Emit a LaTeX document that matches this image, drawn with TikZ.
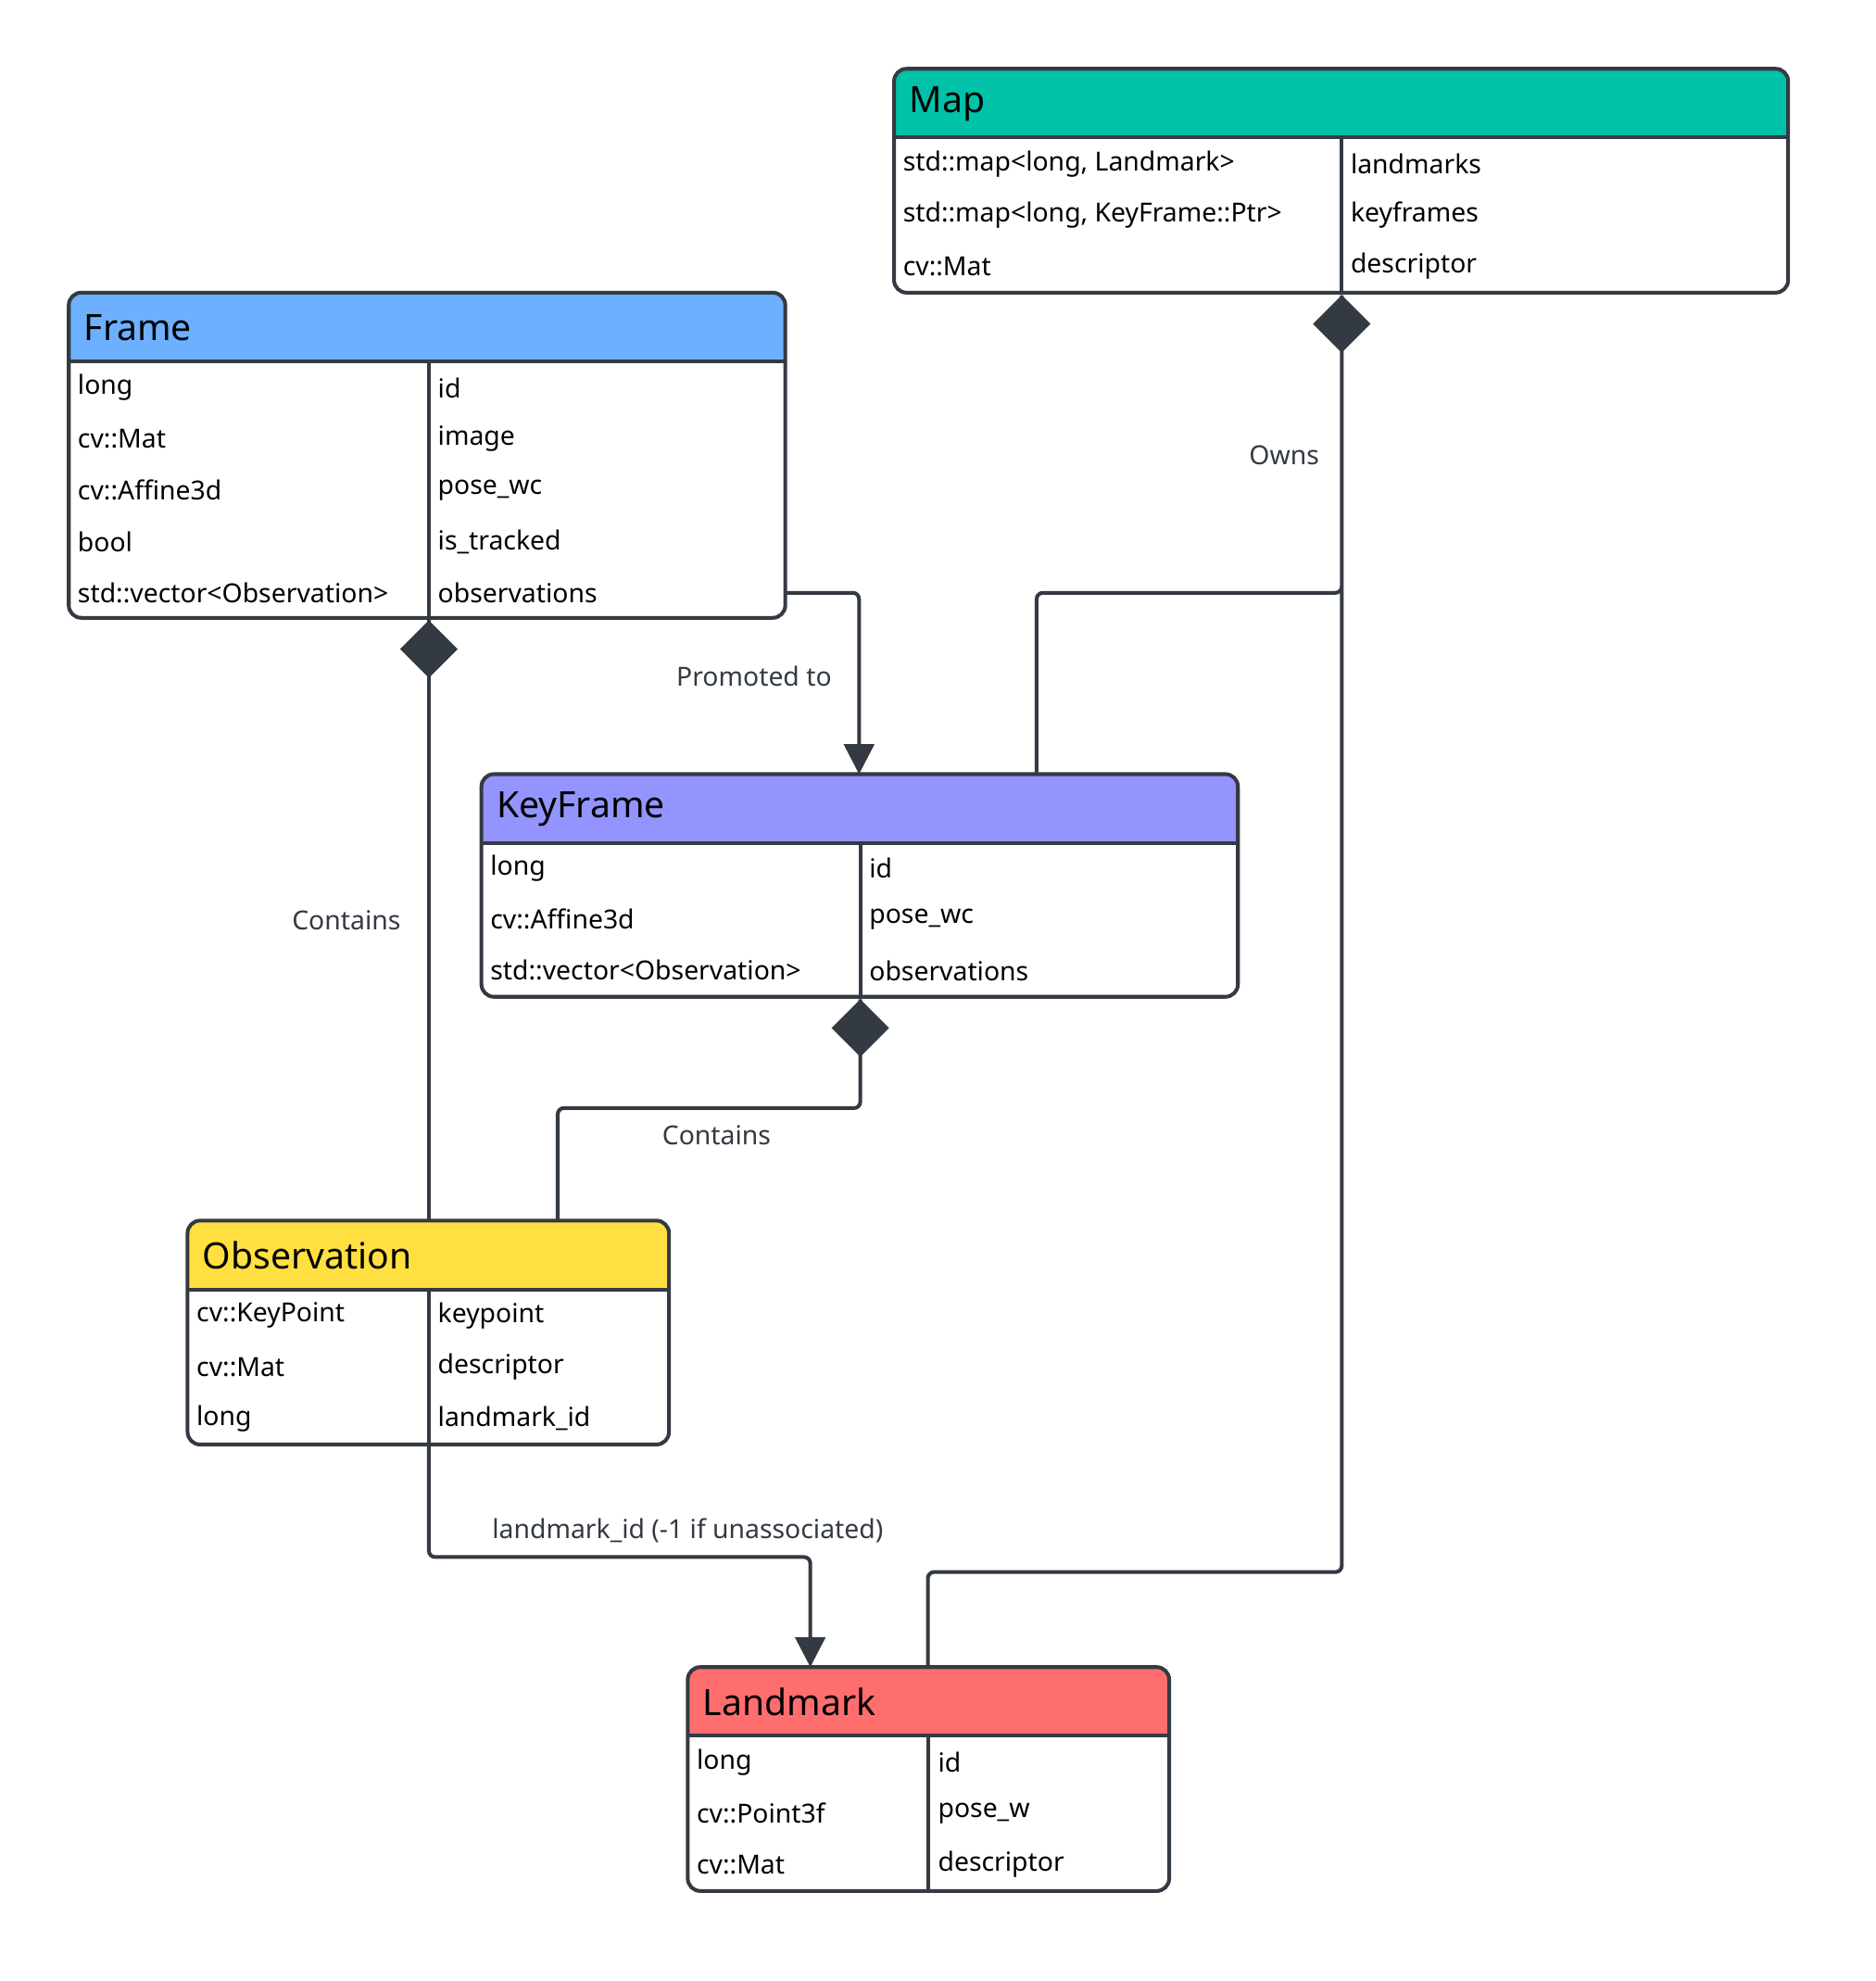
\documentclass[tikz,border=0pt]{standalone}
\usepackage{fontspec}
\setmainfont{Noto Sans}
\usetikzlibrary{arrows.meta}
\definecolor{ln}{HTML}{343A42}
\definecolor{cmap}{HTML}{00C2A8}
\definecolor{cframe}{HTML}{6CB0FF}
\definecolor{ckf}{HTML}{9494FF}
\definecolor{cobs}{HTML}{FFE040}
\definecolor{clm}{HTML}{FF6E6E}
\newcommand\ubox[8]{%
  \pgfmathsetmacro\bw{#4-#2}\pgfmathsetmacro\bh{#5-#3}%
  \pgfmathsetmacro\cx{(#2+#4)/2}\pgfmathsetmacro\cy{(#3+#5)/2}%
  \fill[#7] (#2,#3+55) [rounded corners=10]-- (#2,#3) -- (#4,#3) [sharp corners]-- (#4,#3+55) -- cycle;
  \draw[ln,line width=3] (#2,#3+55) -- (#4,#3+55) (#6,#3+55) -- (#6,#5);
  \node[box,minimum width=\bw pt,minimum height=\bh pt] (#1) at (\cx,\cy) {};
  \node[ttl,anchor=west] (#1t) at (#2+12,#3+28) {#8};}
\tikzset{x=1pt,y=-1pt,
  box/.style={draw=ln,line width=3,rounded corners=10,inner sep=0},
  ttl/.style={font=\fontsize{29}{34}\selectfont,inner sep=0},
  row/.style={font=\fontsize{21}{25}\selectfont,inner sep=0,anchor=west},
  lab/.style={font=\bfseries\fontsize{21}{25}\selectfont,text=ln,inner sep=0},
  con/.style={draw=ln,line width=3},
  arr/.style={con,-{Triangle[width=24pt,length=24pt]}},
  dia/.style={fill=ln}}
\begin{document}
\begin{tikzpicture}
\useasboundingbox (0,0) rectangle (1500,1584);
\fill[white] (0,0) rectangle (1500,1584);
% Map
\ubox{map}{715}{55}{1430}{234}{1073}{cmap}{Map}
\node[row] (m1) at (722,131) {std::map<long, Landmark>};
\node[row] (m2) at (722,172) {std::map<long, KeyFrame::Ptr>};
\node[row] (m3) at (722,213) {cv::Mat};
\node[row] (m4) at (1080,131) {landmarks};
\node[row] (m5) at (1080,172) {keyframes};
\node[row] (m6) at (1080,213) {descriptor};
% Frame
\ubox{frame}{55}{234}{628}{494}{343}{cframe}{Frame}
\node[row] (f1) at (62,310) {long};
\node[row] (f2) at (62,351) {cv::Mat};
\node[row] (f3) at (62,392) {cv::Affine3d};
\node[row] (f4) at (62,433) {bool};
\node[row] (f5) at (62,474) {std::vector<Observation>};
\node[row] (f6) at (350,310) {id};
\node[row] (f7) at (350,351) {image};
\node[row] (f8) at (350,392) {pose\_wc};
\node[row] (f9) at (350,433) {is\_tracked};
\node[row] (f10) at (350,474) {observations};
% KeyFrame
\ubox{kf}{385}{619}{990}{797}{688}{ckf}{KeyFrame}
\node[row] (k1) at (392,694) {long};
\node[row] (k2) at (392,735) {cv::Affine3d};
\node[row] (k3) at (392,776) {std::vector<Observation>};
\node[row] (k4) at (695,694) {id};
\node[row] (k5) at (695,735) {pose\_wc};
\node[row] (k6) at (695,776) {observations};
% Observation
\ubox{obs}{150}{976}{535}{1155}{343}{cobs}{Observation}
\node[row] (o1) at (157,1052) {cv::KeyPoint};
\node[row] (o2) at (157,1093) {cv::Mat};
\node[row] (o3) at (157,1134) {long};
\node[row] (o4) at (350,1052) {keypoint};
\node[row] (o5) at (350,1093) {descriptor};
\node[row] (o6) at (350,1134) {landmark\_id};
% Landmark
\ubox{lm}{550}{1333}{935}{1512}{742}{clm}{Landmark}
\node[row] (l1) at (557,1409) {long};
\node[row] (l2) at (557,1450) {cv::Point3f};
\node[row] (l3) at (557,1491) {cv::Mat};
\node[row] (l4) at (750,1409) {id};
\node[row] (l5) at (750,1450) {pose\_w};
\node[row] (l6) at (750,1491) {descriptor};
% coordinates
\coordinate (fR) at (629,474);
\coordinate (kfT) at (687,619);
\coordinate (fD) at (343,496);
\coordinate (obsT) at (343,976);
\coordinate (kD) at (688,799);
\coordinate (obsT2) at (446,976);
\coordinate (mD) at (1073,236);
\coordinate (kfT2) at (829,619);
\coordinate (lmT) at (742,1333);
\coordinate (obsB) at (343,1155);
\coordinate (lmT2) at (648,1333);
% connectors
\draw[arr,rounded corners=5] (fR) -- (687,474) -- (kfT);
\draw[con] (fD) -- (obsT);
\draw[con,rounded corners=5] (kD) -- (688,886) -- (446,886) -- (obsT2);
\draw[con,rounded corners=5] (mD) -- (1073,474) -- (829,474) -- (kfT2);
\draw[con,rounded corners=5] (1073,470) -- (1073,1257) -- (742,1257) -- (lmT);
\draw[arr,rounded corners=5] (obsB) -- (343,1245) -- (648,1245) -- (lmT2);
% diamonds
\fill[dia] (fD) -- ++(23,23) -- ++(-23,23) -- ++(-23,-23) -- cycle;
\fill[dia] (kD) -- ++(23,23) -- ++(-23,23) -- ++(-23,-23) -- cycle;
\fill[dia] (mD) -- ++(23,23) -- ++(-23,23) -- ++(-23,-23) -- cycle;
% labels
\node[lab] (lp) at (603,541) {Promoted to};
\node[lab] (lc1) at (277,736) {Contains};
\node[lab] (lc2) at (573,908) {Contains};
\node[lab] (lo) at (1027,364) {Owns};
\node[lab] (ll) at (550,1224) {landmark\_id (-1 if unassociated)};
\end{tikzpicture}
\end{document}
